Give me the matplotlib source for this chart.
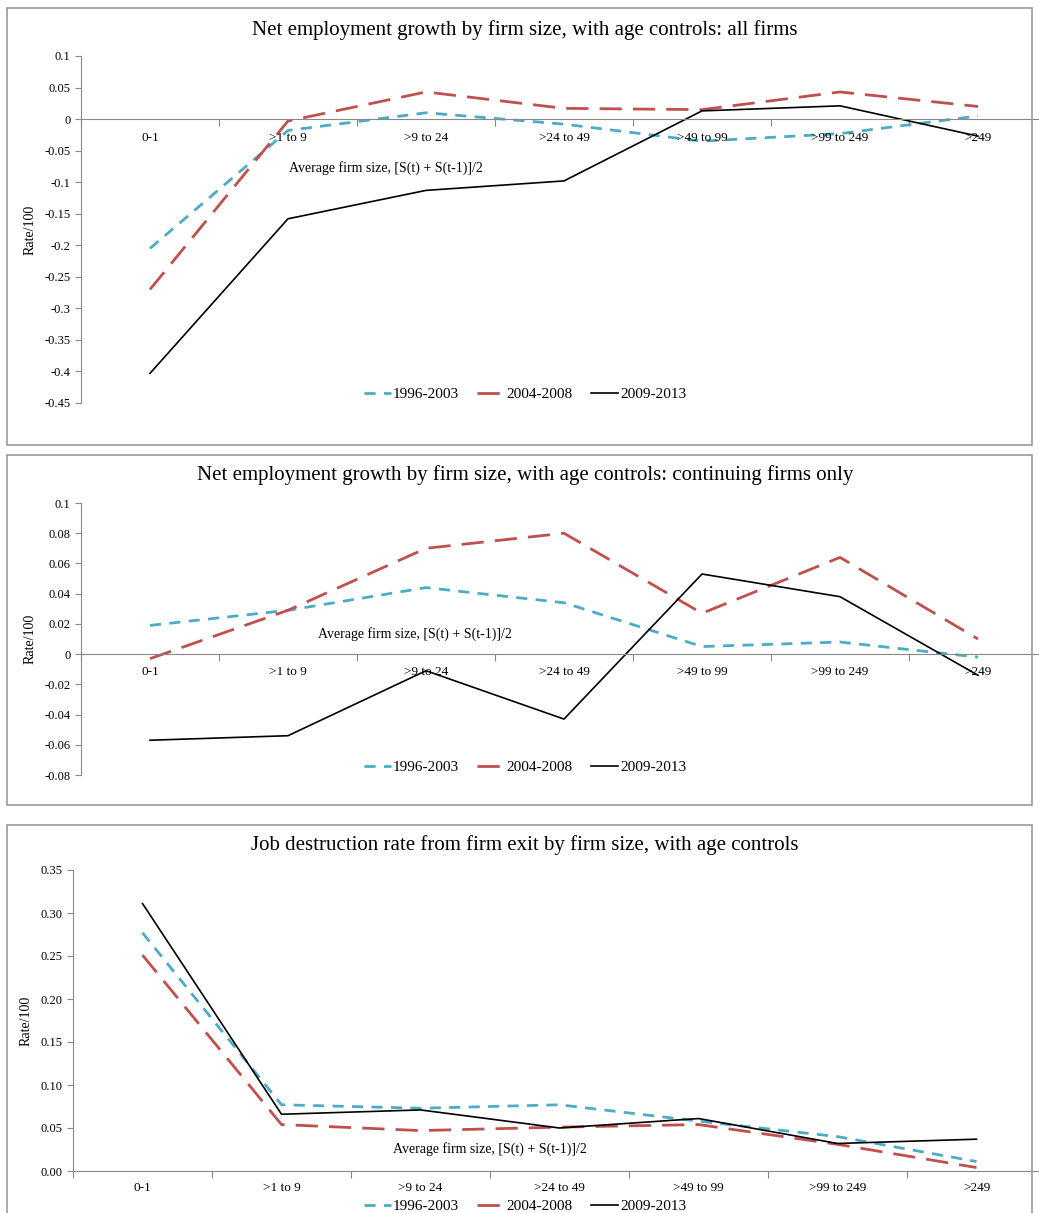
import matplotlib.pyplot as plt
from matplotlib.patches import Rectangle
import numpy as np

plt.rcParams['font.family'] = ['Liberation Serif', 'DejaVu Serif']

sizes = ["0-1", ">1 to 9", ">9 to 24", ">24 to 49", ">49 to 99", ">99 to 249", ">249"]
periods = ["1996-2003", "2004-2008", "2009-2013"]

all_96 = [-0.205, -0.018, 0.010, -0.008, -0.035, -0.023, 0.005]
all_04 = [-0.270, -0.003, 0.043, 0.017, 0.015, 0.043, 0.020]
all_09 = [-0.403, -0.158, -0.113, -0.098, 0.013, 0.021, -0.027]

cont_96 = [0.019, 0.029, 0.044, 0.034, 0.005, 0.008, -0.002]
cont_04 = [-0.003, 0.029, 0.070, 0.080, 0.027, 0.064, 0.010]
cont_09 = [-0.057, -0.054, -0.011, -0.043, 0.053, 0.038, -0.014]

exit_96 = [0.277, 0.077, 0.073, 0.077, 0.058, 0.040, 0.011]
exit_04 = [0.251, 0.054, 0.047, 0.051, 0.054, 0.031, 0.004]
exit_09 = [0.311, 0.066, 0.071, 0.050, 0.061, 0.032, 0.037]

W, H = 1039, 1213
fig = plt.figure(figsize=(W / 100, H / 100), dpi=100)

styles = [dict(color="#4BACC6", lw=2.0, dashes=(4, 3)),
          dict(color="#C0504D", lw=2.0, dashes=(8, 4)),
          dict(color="black", lw=1.2)]


def frac(x0, y0, x1, y1):
    return [x0 / W, 1 - y1 / H, (x1 - x0) / W, (y1 - y0) / H]


def fmt_g(v):
    s = "{:g}".format(round(v, 3) + 0.0)
    return "0" if s in ("-0", "0") else s


def panel(box, ax_px, title, title_y, series, ylim, yticks, fmt, zero_axis,
          lab_y, xt_pos, leg_y):
    x0, y0, x1, y1 = box
    fig.add_artist(Rectangle((x0 / W, 1 - y1 / H), (x1 - x0) / W, (y1 - y0) / H,
                             transform=fig.transFigure, fill=False,
                             edgecolor="#999999", lw=1.2))
    fig.text(525 / W, 1 - title_y / H, title, ha="center", va="center", fontsize=15)
    ax = fig.add_axes(frac(*ax_px))
    x = np.arange(len(sizes))
    lines = []
    for vals, st, name in zip(series, styles, periods):
        ln, = ax.plot(x, vals, label=name, **st)
        lines.append(ln)
    ax.set_xlim(-0.5, 6.5)
    ax.set_ylim(*ylim)
    ax.set_yticks(yticks)
    ax.set_yticklabels([fmt(v) for v in yticks])
    for s in ["top", "right"]:
        ax.spines[s].set_visible(False)
    for s in ["left", "bottom"]:
        ax.spines[s].set_color("#888888")
    if zero_axis:
        ax.spines["bottom"].set_position(("data", 0))
    ax.set_xticks(np.arange(-0.5, 7, 1))
    ax.set_xticklabels([])
    ax.tick_params(axis="x", length=5, color="#888888")
    ax.tick_params(axis="y", length=4, color="#888888", labelsize=9)
    for i, s in enumerate(sizes):
        ax.text(i, lab_y, s, ha="center", va="center", fontsize=9.5)
    ax.text(xt_pos[0], xt_pos[1], "Average firm size, [S(t) + S(t-1)]/2",
            ha="center", va="center", fontsize=10)
    ax.set_ylabel("Rate/100", fontsize=10, labelpad=6)
    ax.legend(handles=lines, loc="center",
              bbox_to_anchor=((525 - ax_px[0]) / (ax_px[2] - ax_px[0]),
                              1 - (leg_y - ax_px[1]) / (ax_px[3] - ax_px[1])),
              ncol=3, frameon=False, fontsize=11, handlelength=1.8,
              handletextpad=0.1, columnspacing=1.2)
    return ax


panel((7, 8, 1032, 445), (81, 56, 1047, 403),
      "Net employment growth by firm size, with age controls: all firms", 30,
      [all_96, all_04, all_09], (-0.45, 0.1),
      np.round(np.arange(-0.45, 0.101, 0.05), 2), fmt_g, True,
      -0.030, (1.71, -0.078), 394)

panel((7, 455, 1032, 805), (81, 503, 1047, 775),
      "Net employment growth by firm size, with age controls: continuing firms only", 475,
      [cont_96, cont_04, cont_09], (-0.08, 0.1),
      np.round(np.arange(-0.08, 0.101, 0.02), 2), fmt_g, True,
      -0.012, (1.92, 0.013), 767)

panel((7, 825, 1032, 1220), (73, 870, 1046, 1171),
      "Job destruction rate from firm exit by firm size, with age controls", 845,
      [exit_96, exit_04, exit_09], (0, 0.35),
      np.round(np.arange(0, 0.351, 0.05), 2), "{:.2f}".format, False,
      -0.0195, (2.5, 0.025), 1206)

fig.savefig("out.png", dpi=100)
